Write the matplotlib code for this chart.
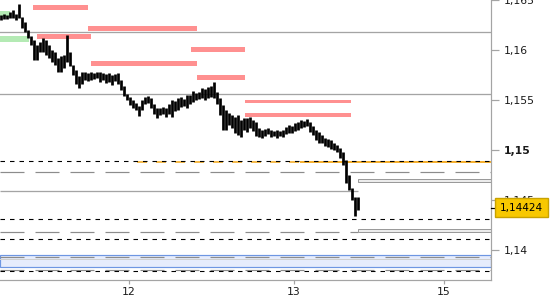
import matplotlib
matplotlib.use('Agg')  # sem display
import matplotlib.pyplot as plt
from matplotlib.patches import Rectangle
from matplotlib.transforms import blended_transform_factory
import numpy as np

plt.rcParams['lines.scale_dashes'] = False

# barras de preço (máxima / mínima), uma a cada 3 px
highs = [1.1635, 1.1636, 1.1635, 1.1638, 1.1640, 1.1636, 1.1646, 1.1633, 1.1628, 1.1620,
         1.1614, 1.1610, 1.1605, 1.1608, 1.1612, 1.1610, 1.1605, 1.1600, 1.1598, 1.1592,
         1.1594, 1.1595, 1.1615, 1.1598, 1.1585, 1.1580, 1.1574, 1.1578, 1.1578, 1.1577,
         1.1578, 1.1577, 1.1578, 1.1578, 1.1577, 1.1576, 1.1577, 1.1575, 1.1576, 1.1577,
         1.1570, 1.1564, 1.1556, 1.1553, 1.1550, 1.1547, 1.1544, 1.1550, 1.1553, 1.1554,
         1.1552, 1.1546, 1.1542, 1.1542, 1.1543, 1.1542, 1.1546, 1.1550, 1.1549, 1.1552,
         1.1553, 1.1551, 1.1555, 1.1555, 1.1559, 1.1557, 1.1558, 1.1562, 1.1561, 1.1563,
         1.1564, 1.1568, 1.1558, 1.1552, 1.1545, 1.1540, 1.1537, 1.1535, 1.1533, 1.1535,
         1.1530, 1.1532, 1.1532, 1.1533, 1.1530, 1.1528, 1.1522, 1.1520, 1.1521, 1.1522,
         1.1520, 1.1519, 1.1520, 1.1519, 1.1520, 1.1523, 1.1525, 1.1524, 1.1527, 1.1528,
         1.1530, 1.1529, 1.1531, 1.1528, 1.1524, 1.1520, 1.1518, 1.1515, 1.1512, 1.1511,
         1.1510, 1.1507, 1.1505, 1.1502, 1.1498, 1.1490, 1.1475, 1.1462, 1.1453, 1.1453]
lows = [1.1630, 1.1631, 1.1631, 1.1632, 1.1632, 1.1630, 1.1632, 1.1622, 1.1618, 1.1612,
        1.1605, 1.1590, 1.1590, 1.1598, 1.1598, 1.1595, 1.1592, 1.1588, 1.1585, 1.1578,
        1.1578, 1.1582, 1.1588, 1.1584, 1.1575, 1.1566, 1.1562, 1.1566, 1.1570, 1.1569,
        1.1570, 1.1571, 1.1572, 1.1568, 1.1570, 1.1567, 1.1568, 1.1565, 1.1569, 1.1566,
        1.1560, 1.1554, 1.1550, 1.1545, 1.1542, 1.1540, 1.1534, 1.1540, 1.1546, 1.1547,
        1.1542, 1.1536, 1.1532, 1.1535, 1.1536, 1.1533, 1.1536, 1.1533, 1.1539, 1.1540,
        1.1543, 1.1544, 1.1542, 1.1546, 1.1548, 1.1550, 1.1551, 1.1552, 1.1550, 1.1552,
        1.1553, 1.1552, 1.1546, 1.1535, 1.1520, 1.1520, 1.1525, 1.1522, 1.1517, 1.1515,
        1.1513, 1.1520, 1.1518, 1.1522, 1.1519, 1.1514, 1.1513, 1.1512, 1.1514, 1.1516,
        1.1513, 1.1514, 1.1512, 1.1514, 1.1513, 1.1516, 1.1517, 1.1517, 1.1519, 1.1520,
        1.1522, 1.1523, 1.1524, 1.1518, 1.1515, 1.1510, 1.1507, 1.1507, 1.1504, 1.1503,
        1.1501, 1.1500, 1.1498, 1.1492, 1.1485, 1.1467, 1.1460, 1.1450, 1.1434, 1.1440]
last_price = 1.14424

# zonas: (x inicio, x fim, preço central)
red_zones = [(33, 88, 1.16423), (88, 197, 1.16215), (37, 91, 1.16137), (191, 245, 1.16005),
             (91, 197, 1.15865), (197, 245, 1.15725)]
red_thin = [(245, 351, 1.15483), (245, 351, 1.15350)]
green_zones = [(0, 10, 1.1636), (0, 29, 1.16107)]

# níveis horizontais
gray_solid = [1.16180, 1.15560]
black_dashed = [1.14890, 1.14307, 1.14107, 1.13787]
gray_dashed_full = [1.14777, 1.13927, 1.13800]
split_x = 358
gray_left_solid = 1.14590
gray_left_dashed = 1.14180
double_lines = [(1.14685, 1.14715), (1.14180, 1.14210)]
orange_level = 1.14885
blue_band = (1.13827, 1.13947)
blue_mid = 1.13907

day_pos = [129, 294, 444]
day_labels = ['12', '13', '15']
y_ticks = [1.14, 1.145, 1.15, 1.155, 1.16, 1.165]

fig = plt.figure(figsize=(5.5, 3), dpi=100)
ax = fig.add_axes([0, 20 / 300, 491 / 550, 280 / 300])
ax.set_xlim(0, 491)
ax.set_ylim(1.137, 1.165)

px = 0.72  # 1 px em pontos
gray = '#a4a4a4'

# faixa azul
b0, b1 = blue_band
ax.add_patch(Rectangle((0, b0), 491, b1 - b0, facecolor='#e6ecfc', edgecolor='#6e96e2', lw=1.2 * px, zorder=1))
ax.axhline(blue_mid, color='#cfcfcf', lw=1 * px, zorder=1.2)

for y in gray_solid:
    ax.axhline(y, color=gray, lw=1.3 * px, zorder=1)
ax.hlines(gray_left_solid, 0, split_x, color=gray, lw=1.3 * px, zorder=1)
for y in gray_dashed_full:
    ax.axhline(y, color='#8c8c8c', lw=1.2 * px, dashes=(24 * px, 11 * px), zorder=1.5)
ax.hlines(gray_left_dashed, 0, split_x, color='#8c8c8c', lw=1.2 * px, linestyles=(0, (24 * px, 11 * px)), zorder=1.5)
for y0, y1 in double_lines:
    ax.add_patch(Rectangle((split_x, y0), 491 - split_x, y1 - y0, facecolor='#ececec',
                           edgecolor='#9a9a9a', lw=1 * px, zorder=1.6))

# linha laranja: tracejada até ~300, quase contínua depois
ax.hlines(orange_level, 137, 300, color='#f5b53c', lw=1.8 * px, linestyles=(0, (10 * px, 9 * px)), zorder=1.7)
ax.hlines(orange_level, 300, 491, color='#f5b030', lw=2 * px, zorder=1.7)
for y in black_dashed:
    ax.axhline(y, color='black', lw=1.1 * px, dashes=(4.5 * px, 5 * px), zorder=1.8)

# zonas vermelhas e verdes
for x0, x1, y in red_zones:
    ax.add_patch(Rectangle((x0, y - 0.00027), x1 - x0, 0.00054, facecolor='#ff9090', lw=0, zorder=2))
for x0, x1, y in red_thin:
    ax.add_patch(Rectangle((x0, y - 0.00017), x1 - x0, 0.00034, facecolor='#ff9090', lw=0, zorder=2))
for x0, x1, y in green_zones:
    ax.add_patch(Rectangle((x0, y - 0.0003), x1 - x0, 0.0006, facecolor='#b4eab4', lw=0, zorder=2))

# preço
bar_x = 1.5 + 3 * np.arange(len(highs))
ax.vlines(bar_x, lows, highs, colors='black', lw=2.7 * px, zorder=5)

# eixos
for s in ['left', 'top']:
    ax.spines[s].set_visible(False)
for s in ['right', 'bottom']:
    ax.spines[s].set_color(gray)
    ax.spines[s].set_linewidth(1.2 * px)

ax.yaxis.tick_right()
ax.set_yticks(y_ticks)
ax.set_yticklabels([f"{v:.3f}".rstrip('0').replace('.', ',') for v in y_ticks])
ax.get_yticklabels()[2].set_fontweight('bold')
ax.tick_params(axis='y', length=6, width=1.2 * px, color=gray, pad=3, labelsize=7.8, labelcolor='#1a1a1a')
ax.set_xticks(day_pos)
ax.set_xticklabels(day_labels)
ax.tick_params(axis='x', length=3, width=1.2 * px, color=gray, pad=2, labelsize=7.8, labelcolor='#1a1a1a')

tr = blended_transform_factory(ax.transAxes, ax.transData)
ax.plot([1.0, 1.013], [last_price, last_price], color='black', lw=1.2 * px, transform=tr, clip_on=False, zorder=9)
ax.text(1.0 + 9 / 491, last_price, '1,14424', transform=tr, va='center', ha='left', fontsize=7.6,
        color='black', zorder=10, clip_on=False,
        bbox=dict(boxstyle='square,pad=0.45', facecolor='#f8c800', edgecolor='#c8a200', lw=1))

fig.savefig('out.png', dpi=100)
